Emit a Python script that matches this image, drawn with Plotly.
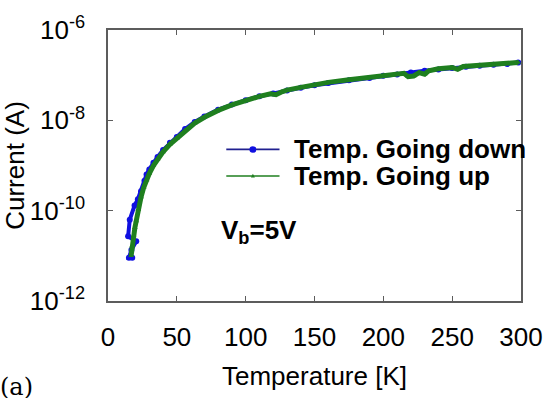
import plotly.graph_objects as go

# Temperature sweep going down (K) and measured current (A)
temp_down = [298, 290, 280, 270, 260, 250, 240, 230, 220, 210, 200, 190, 175, 160,
             150, 140, 130, 120, 110, 100, 90, 80, 70, 63, 56, 50, 45, 40, 36, 33,
             30, 28, 26.5, 24, 21.7, 19.3, 15.8, 14.6, 20.5, 17, 15.2, 17.6]
current_down = [1.9e-7, 1.77e-7, 1.69e-7, 1.61e-7, 1.53e-7, 1.44e-7, 1.34e-7, 1.25e-7,
                1.14e-7, 1.04e-7, 9.7e-8, 8.65e-8, 7.7e-8, 6.7e-8, 6.0e-8, 5.25e-8,
                4.6e-8, 3.95e-8, 3.4e-8, 2.8e-8, 2.25e-8, 1.72e-8, 1.22e-8, 9.2e-9,
                6.4e-9, 4.3e-9, 3.2e-9, 2.2e-9, 1.55e-9, 1.15e-9, 8.2e-10, 6.3e-10,
                4.6e-10, 2.7e-10, 1.8e-10, 1.3e-10, 6.3e-11, 2.7e-11, 2.1e-11,
                1.35e-11, 9.1e-12, 9.1e-12]

# Temperature sweep going up (K) and measured current (A)
temp_up = [16.8, 17.5, 18.5, 19.5, 20.5, 22, 24, 26, 28, 30, 33, 36, 40, 45, 50, 56,
           63, 70, 80, 90, 100, 110, 118, 122, 126, 130, 140, 150, 160, 175, 190, 200,
           210, 215, 218, 222, 226, 230, 233, 240, 250, 254, 258, 262, 270, 280, 290, 298]
current_up = [1.0e-11, 1.66e-11, 2.82e-11, 4.17e-11, 5.89e-11, 1.05e-10, 2.0e-10,
              3.31e-10, 4.79e-10, 6.61e-10, 1.0e-9, 1.38e-9, 2.0e-9, 2.95e-9, 3.98e-9,
              6.03e-9, 8.71e-9, 1.17e-8, 1.66e-8, 2.19e-8, 2.75e-8, 3.39e-8, 3.85e-8,
              3.7e-8, 4.25e-8, 4.68e-8, 5.37e-8, 6.17e-8, 6.92e-8, 7.94e-8, 8.91e-8,
              1.0e-7, 1.07e-7, 1.1e-7, 9.3e-8, 9.6e-8, 1.14e-7, 1.05e-7, 1.25e-7,
              1.38e-7, 1.48e-7, 1.35e-7, 1.55e-7, 1.58e-7, 1.66e-7, 1.74e-7, 1.82e-7,
              1.91e-7]

x_ticks = [0, 50, 100, 150, 200, 250, 300]
y_ticks = [1e-12, 1e-10, 1e-8, 1e-6]
y_tick_text = ["10<sup>-12</sup>", "10<sup>-10</sup>", "10<sup>-8</sup>", "10<sup>-6</sup>"]

series_names = ["Temp. Going down", "Temp. Going up"]
BLUE = "#1010e0"
BLUE_LINE = "#202090"
GREEN = "#1f7f1f"
AXIS = "#5c5c5c"
FONT = "Liberation Sans, Arial, sans-serif"

fig = go.Figure()

fig.add_trace(go.Scatter(
    x=temp_down, y=current_down, mode="lines+markers", name=series_names[0],
    line=dict(color=BLUE, width=4),
    marker=dict(symbol="circle", size=6, color=BLUE),
    showlegend=False,
))
fig.add_trace(go.Scatter(
    x=temp_up, y=current_up, mode="lines+markers", name=series_names[1],
    line=dict(color=GREEN, width=5),
    marker=dict(symbol="triangle-up", size=5, color=GREEN),
    showlegend=False,
))

# Plot-area geometry (pixels) used to place the hand-drawn legend
L, R, T, B = 108, 527, 22, 317


def px(xp):
    return (xp - L) / (R - L)


def py(yp):
    return (B - yp) / (B - T)


shapes = []
annotations = []
legend_rows = [(152, BLUE_LINE, BLUE, "circle"), (181, GREEN, GREEN, "triangle")]
for (ypix, lcol, mcol, sym), name in zip(legend_rows, series_names):
    shapes.append(dict(type="line", xref="paper", yref="paper",
                       x0=px(228), x1=px(282), y0=py(ypix), y1=py(ypix),
                       line=dict(color=lcol, width=1.6)))
    if sym == "circle":
        shapes.append(dict(type="circle", xref="paper", yref="paper",
                           x0=px(251.5), x1=px(258.5), y0=py(155.5), y1=py(148.5),
                           fillcolor=mcol, line=dict(color=mcol, width=0)))
    else:
        shapes.append(dict(type="path", xref="paper", yref="paper",
                           path=f"M {px(253)} {py(ypix + 1.5)} L {px(257)} {py(ypix + 1.5)} "
                                f"L {px(255)} {py(ypix - 2.5)} Z",
                           fillcolor=mcol, line=dict(color=mcol, width=0)))
    annotations.append(dict(x=px(295), y=py(ypix), xref="paper", yref="paper",
                            text=f"<b>{name}</b>", showarrow=False,
                            xanchor="left", yanchor="middle",
                            font=dict(family=FONT, size=26, color="black")))

annotations.append(dict(x=px(221), y=py(241), xref="paper", yref="paper",
                        text="<b>V<sub>b</sub>=5V</b>", showarrow=False,
                        xanchor="left", yanchor="middle",
                        font=dict(family=FONT, size=26, color="black")))
annotations.append(dict(x=0, y=0, xref="paper", yref="paper",
                        text="(a)", showarrow=False, xanchor="left", yanchor="top",
                        xshift=-L - 2, yshift=-70,
                        font=dict(family="DejaVu Serif, serif", size=24, color="black")))

axis_common = dict(
    showline=True, linecolor=AXIS, linewidth=1.5, mirror="ticks",
    ticks="inside", ticklen=5, tickcolor=AXIS, tickwidth=1.2,
    showgrid=False, zeroline=False,
    tickfont=dict(family=FONT, size=26, color="black"),
)

fig.update_layout(
    width=555, height=398,
    margin=dict(l=L, r=555 - R, t=T, b=398 - B),
    paper_bgcolor="white", plot_bgcolor="white",
    font=dict(family=FONT, color="black"),
    xaxis=dict(range=[0, 300], tickmode="array", tickvals=x_ticks,
               ticklabelstandoff=12,
               title=dict(text="Temperature [K]", standoff=16,
                          font=dict(family=FONT, size=26, color="black")),
               **axis_common),
    yaxis=dict(type="log", range=[-12, -6], tickmode="array", tickvals=y_ticks,
               ticktext=y_tick_text, ticklabelstandoff=16,
               title=dict(text="Current (A)", standoff=0,
                          font=dict(family=FONT, size=26, color="black")),
               **axis_common),
    shapes=shapes,
    annotations=annotations,
    showlegend=False,
)

fig.write_html("out.html")
